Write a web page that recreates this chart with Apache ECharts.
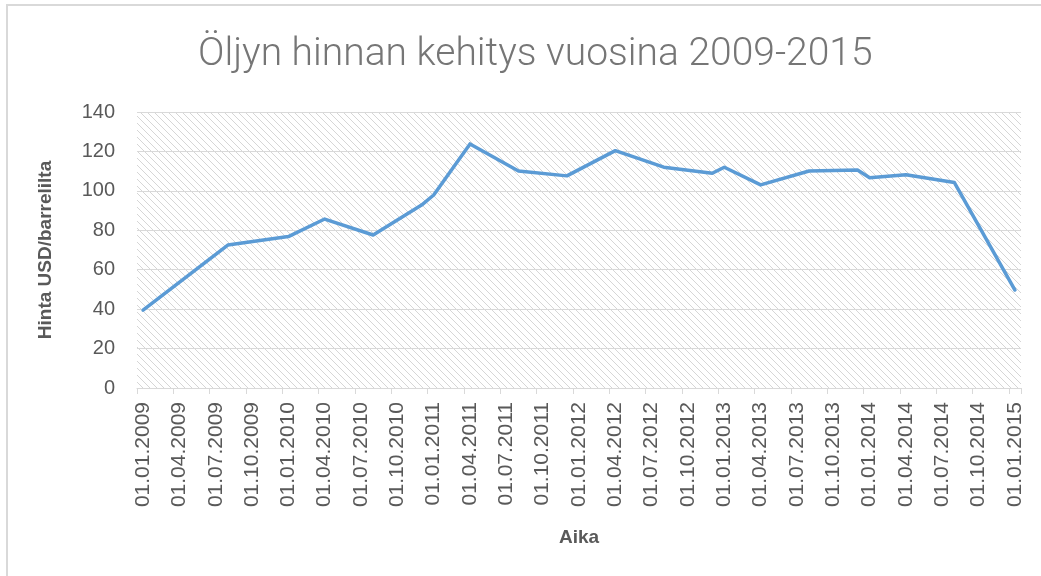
<!DOCTYPE html>
<html>
<head>
<meta charset="utf-8">
<script src="https://cdn.jsdelivr.net/npm/echarts@6/dist/echarts.min.js"></script>
<style>
html,body{margin:0;padding:0;background:#fff;}
#c{width:1041px;height:576px;}
</style>
</head>
<body>
<div id="c"></div>
<script>
// Data (monthly date axis)
var dates = ['01.01.2009','01.08.2009','01.01.2010','01.04.2010','01.08.2010','01.12.2010',
             '01.01.2011','01.04.2011','01.08.2011','01.12.2011','01.04.2012','01.08.2012',
             '01.12.2012','01.01.2013','01.04.2013','01.08.2013','01.12.2013','01.01.2014',
             '01.04.2014','01.08.2014','01.01.2015'];
var prices = [39.5, 72.5, 76.8, 85.7, 77.6, 92.8,
              97.9, 123.8, 110.1, 107.6, 120.4, 112.0,
              108.9, 112.0, 103.0, 110.1, 110.6, 106.7,
              108.2, 104.2, 49.7];
var yTicks = [0, 20, 40, 60, 80, 100, 120, 140];
var firstYear = 2009, lastYear = 2015;

// monthly categories 01.01.2009 ... 01.01.2015
var categories = [];
for (var y = firstYear; y <= lastYear; y++) {
  for (var m = 1; m <= 12; m++) {
    if (y === lastYear && m > 1) break;
    categories.push('01.' + (m < 10 ? '0' + m : m) + '.' + y);
  }
}

// hatch pattern
var T = 7;
var tile = document.createElement('canvas');
tile.width = T; tile.height = T;
var ctx = tile.getContext('2d');
ctx.strokeStyle = '#d6d6d6';
ctx.lineWidth = 1;
ctx.beginPath();
ctx.moveTo(-1, -1); ctx.lineTo(T + 1, T + 1);
ctx.moveTo(-1, T - 1); ctx.lineTo(1, T + 1);
ctx.moveTo(T - 1, -1); ctx.lineTo(T + 1, 1);
ctx.stroke();

var chart = echarts.init(document.getElementById('c'), null, {renderer: 'canvas'});
chart.setOption({
  animation: false,
  backgroundColor: '#fff',
  title: {
    text: 'Öljyn hinnan kehitys vuosina 2009-2015',
    left: 193,
    top: 31,
    textStyle: {fontFamily: 'Roboto', fontWeight: 300, fontSize: 39, color: '#767676'}
  },
  graphic: [{
    type: 'rect',
    shape: {x: 7, y: 5, width: 1100, height: 700},
    style: {fill: 'none', stroke: '#d9d9d9', lineWidth: 2},
    silent: true
  }],
  grid: {
    left: 137, top: 112, width: 884, height: 276,
    show: true,
    backgroundColor: {image: tile, repeat: 'repeat'},
    borderWidth: 0
  },
  xAxis: {
    type: 'category',
    data: categories,
    boundaryGap: true,
    name: 'Aika',
    nameLocation: 'middle',
    nameGap: 140,
    nameTextStyle: {fontFamily: 'Liberation Sans', fontWeight: 'bold', fontSize: 19, color: '#595959'},
    axisLine: {lineStyle: {color: '#d9d9d9', width: 1}},
    axisTick: {show: true, interval: 2, length: 6, lineStyle: {color: '#d9d9d9'}},
    axisLabel: {interval: 2, rotate: 90, margin: 14, fontFamily: 'Liberation Sans', fontSize: 21, color: '#595959'},
    splitLine: {show: false}
  },
  yAxis: {
    type: 'value',
    min: yTicks[0], max: yTicks[yTicks.length - 1], interval: 20,
    name: 'Hinta USD/barrelilta',
    nameLocation: 'middle',
    nameGap: 82,
    nameTextStyle: {fontFamily: 'Liberation Sans', fontWeight: 'bold', fontSize: 19, color: '#595959'},
    axisLine: {show: false},
    axisTick: {show: false},
    axisLabel: {margin: 22, fontFamily: 'Liberation Sans', fontSize: 20, color: '#595959'},
    splitLine: {lineStyle: {color: '#d9d9d9', width: 1}}
  },
  series: [{
    type: 'line',
    data: dates.map(function (d, i) { return [d, prices[i]]; }),
    showSymbol: false,
    symbol: 'none',
    lineStyle: {color: '#5b9bd5', width: 3.5, join: 'round', cap: 'round'}
  }]
});
</script>
</body>
</html>
